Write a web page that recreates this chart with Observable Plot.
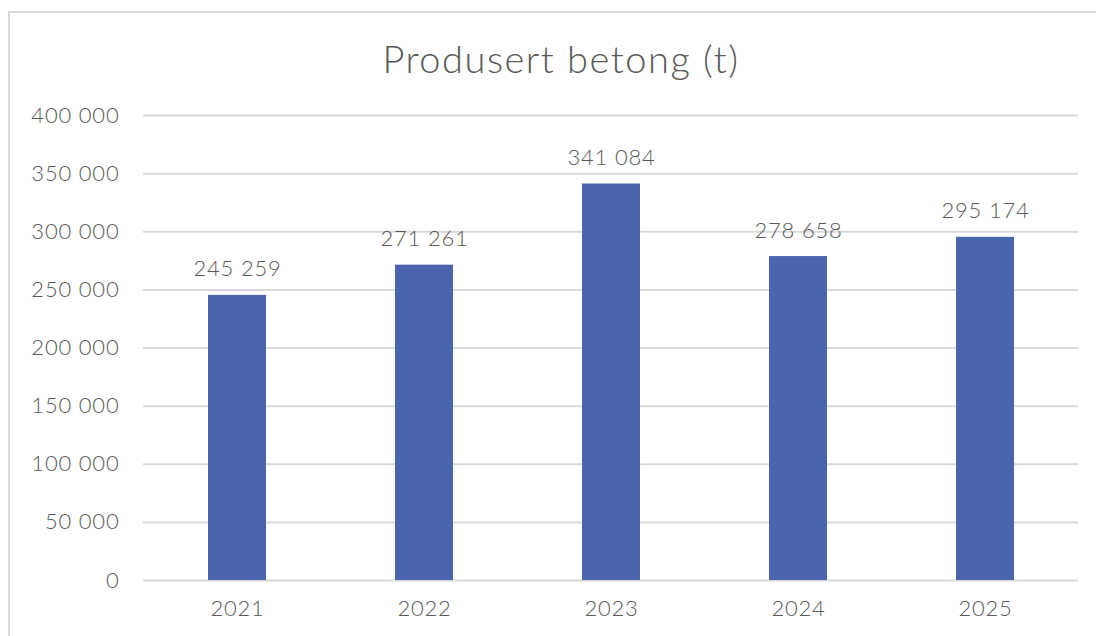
<!DOCTYPE html>
<html>
<head>
<meta charset="utf-8">
<script src="https://cdn.jsdelivr.net/npm/d3@7"></script>
<script src="https://cdn.jsdelivr.net/npm/@observablehq/plot@0.6"></script>
<style>
  html, body { margin: 0; padding: 0; background: #fff; }
  #wrap { position: relative; width: 1096px; height: 636px; overflow: hidden; }
  #frame { position: absolute; left: 8px; top: 11px; width: 1200px; height: 700px; border: 2px solid #d9d9d9; box-sizing: border-box; }
  #title { position: absolute; left: 13px; width: 1096px; top: 39px; text-align: center; font-family: Lato, sans-serif; font-weight: 300; font-size: 38px; letter-spacing: 1.5px; color: #595959; line-height: 1; }
  #chart { position: absolute; left: 0; top: 0; }
  #chart text { letter-spacing: 0.8px; }
</style>
</head>
<body>
<div id="wrap">
  <div id="frame"></div>
  <div id="chart"></div>
  <div id="title">Produsert betong (t)</div>
</div>
<script>
const years = ["2021", "2022", "2023", "2024", "2025"];
const values = [245259, 271261, 341084, 278658, 295174];
const yTicks = [0, 50000, 100000, 150000, 200000, 250000, 300000, 350000, 400000];

const data = years.map((y, i) => ({year: y, value: values[i]}));
const fmt = d3.formatLocale({decimal: ",", thousands: " ", grouping: [3], currency: ["", " kr"]}).format(",d");

const chart = Plot.plot({
  width: 1096,
  height: 636,
  marginLeft: 143,
  marginRight: 18,
  marginTop: 115,
  marginBottom: 56,
  style: {fontFamily: "Lato, sans-serif", fontSize: "22px", fontWeight: 300, color: "#595959", background: "transparent", overflow: "visible"},
  x: {domain: years, paddingInner: 0.69, paddingOuter: 0.345, label: null},
  y: {domain: [0, 400000], ticks: yTicks, label: null},
  marks: [
    Plot.gridY(yTicks, {stroke: "#d9d9d9", strokeOpacity: 1, strokeWidth: 2}),
    Plot.barY(data, {x: "year", y: "value", fill: "#4a65ae"}),
    Plot.text(data, {x: "year", y: "value", text: d => fmt(d.value), dy: -26, fill: "#595959", fontSize: 22}),
    Plot.axisX({tickSize: 0, tickPadding: 20, label: null, fill: "#595959", fontSize: 22}),
    Plot.axisY({ticks: yTicks, tickSize: 0, tickPadding: 24, tickFormat: fmt, label: null, fill: "#595959", fontSize: 22})
  ]
});
document.getElementById("chart").appendChild(chart);
</script>
</body>
</html>
